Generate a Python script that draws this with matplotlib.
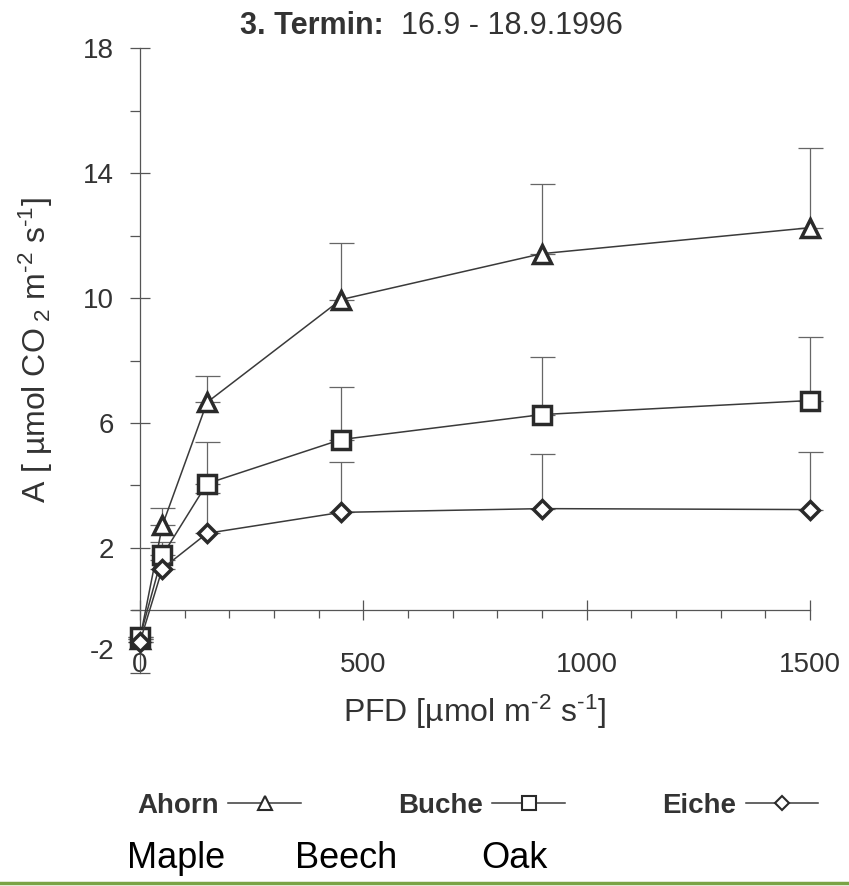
import matplotlib
matplotlib.use('Agg')
import matplotlib.pyplot as plt
from matplotlib.lines import Line2D
from matplotlib.ticker import FixedLocator
from matplotlib.transforms import ScaledTranslation
import numpy as np

# ---------------- data ----------------
pfd = [0, 50, 150, 450, 900, 1500]
ahorn = [-0.9, 2.72, 6.66, 9.95, 11.42, 12.25]
ahorn_upper = [-0.9, 3.27, 7.5, 11.75, 13.66, 14.8]
buche = [-0.85, 1.76, 4.06, 5.47, 6.27, 6.72]
buche_upper = [-0.85, 2.2, 5.4, 7.14, 8.1, 8.74]
eiche = [-1.0, 1.34, 2.47, 3.14, 3.26, 3.23]
eiche_upper = [-1.0, 1.6, 3.75, 4.74, 5.02, 5.06]

y_major = [-2, 2, 6, 10, 14, 18]
y_minor = [0, 4, 8, 12, 16]
x_major = [0, 500, 1000, 1500]
x_minor = [100, 200, 300, 400, 600, 700, 800, 900, 1100, 1200, 1300, 1400]

species_de = ['Ahorn', 'Buche', 'Eiche']
species_en = ['Maple', 'Beech', 'Oak']
title_bold = '3. Termin:'
title_rest = '  16.9 - 18.9.1996'

plt.rcParams['font.family'] = ['Liberation Sans', 'DejaVu Sans']
plt.rcParams['mathtext.fontset'] = 'custom'
plt.rcParams['mathtext.rm'] = 'Liberation Sans'
plt.rcParams['mathtext.it'] = 'Liberation Sans:italic'
plt.rcParams['mathtext.bf'] = 'Liberation Sans:bold'

TXT = '#333333'
MK = '#2a2a2a'
LN = '#3a3a3a'
EB = '#666666'

fig = plt.figure(figsize=(8.49, 8.86), dpi=100)
ax = fig.add_axes([0.15438, 0.2228, 0.8155, 0.7406])
ax.set_xlim(-20, 1530)
ax.set_ylim(-2.5, 18.5)

series = [
    (ahorn, ahorn_upper, '^', 13.5),
    (buche, buche_upper, 's', 12.5),
    (eiche, eiche_upper, 'D', 9.5),
]
handles = []
for vals, upper, mk, ms in series:
    v = np.array(vals)
    up = np.array(upper) - v
    ax.errorbar(pfd, vals, yerr=[np.zeros_like(up), up], fmt='none',
                ecolor=EB, elinewidth=0.9, capsize=9, capthick=0.9,
                clip_on=False, zorder=2)
    h, = ax.plot(pfd, vals, color=LN, lw=1.1, marker=mk, ms=ms,
                 mfc='white', mec=MK, mew=2.5, clip_on=False, zorder=3)
    handles.append(h)

for s in ['top', 'right']:
    ax.spines[s].set_visible(False)
ax.spines['left'].set_position(('data', 0))
ax.spines['bottom'].set_position(('data', 0))
ax.spines['left'].set_bounds(-2, 18)
ax.spines['bottom'].set_bounds(-18, 1500)
for s in ['left', 'bottom']:
    ax.spines[s].set_color('#555555')
    ax.spines[s].set_linewidth(0.9)

ax.yaxis.set_major_locator(FixedLocator(y_major))
ax.yaxis.set_minor_locator(FixedLocator(y_minor))
ax.xaxis.set_major_locator(FixedLocator(x_major))
ax.xaxis.set_minor_locator(FixedLocator(x_minor))
ax.tick_params(axis='y', which='major', direction='inout', length=15,
               width=0.9, color='#555555', labelsize=20, labelcolor=TXT, pad=11)
ax.tick_params(axis='y', which='minor', direction='out', length=7,
               width=0.9, color='#555555')
ax.tick_params(axis='x', which='major', direction='inout', length=14,
               width=0.9, color='#555555', labelsize=20, labelcolor=TXT, pad=23)
ax.tick_params(axis='x', which='minor', direction='out', length=6,
               width=0.9, color='#555555')
ax.set_yticklabels([str(v) for v in y_major])
ax.set_xticklabels([str(v) for v in x_major])

# lift the "-2" label like in the reference
lab = ax.yaxis.get_major_ticks()[0].label1
lab.set_transform(lab.get_transform() + ScaledTranslation(0, 0.24, fig.dpi_scale_trans))

# title
t1 = fig.text(240 / 849, 1 - 26 / 886, title_bold, fontsize=22, fontweight='bold',
              color=TXT, ha='left', va='center')
fig.canvas.draw()
ax.annotate(title_rest, xy=(1, 0), xycoords=t1, ha='left', va='bottom',
            fontsize=22, color=TXT, annotation_clip=False)

# axis labels
fig.text(36 / 849, 1 - 350 / 886,
         r'A [ µmol CO$_{\ 2}$ m$^{\text{-2}}$ s$^{\text{-1}}$]',
         rotation=90, ha='center', va='center', fontsize=23, color=TXT)
fig.text(474 / 849, 1 - 712 / 886, r'PFD [µmol m$^{\text{-2}}$ s$^{\text{-1}}$]',
         ha='center', va='center', fontsize=23, color=TXT)

# legend
leg = fig.legend(handles, species_de, loc='center left', ncol=3,
                 bbox_to_anchor=(126 / 849, 1 - 806 / 886), frameon=False,
                 markerfirst=False, handlelength=2.6, handletextpad=0.35,
                 columnspacing=3.5, borderaxespad=0,
                 prop={'weight': 'bold', 'size': 20})
for t in leg.get_texts():
    t.set_color(TXT)
for lh in leg.legend_handles:
    lh.set_markersize(lh.get_markersize() * 0.75)
    lh.set_markeredgewidth(1.5)

# English names
for name, xc in zip(species_en, [176, 346, 514]):
    fig.text(xc / 849, 1 - 858 / 886, name, ha='center', va='center',
             fontsize=26, color='black',
             family=['Liberation Sans Narrow', 'Liberation Sans'])

fig.add_artist(Line2D([0, 1], [1 - 883 / 886] * 2, transform=fig.transFigure,
                      color='#7aa346', lw=2.5))

fig.savefig('out.png', dpi=100)
